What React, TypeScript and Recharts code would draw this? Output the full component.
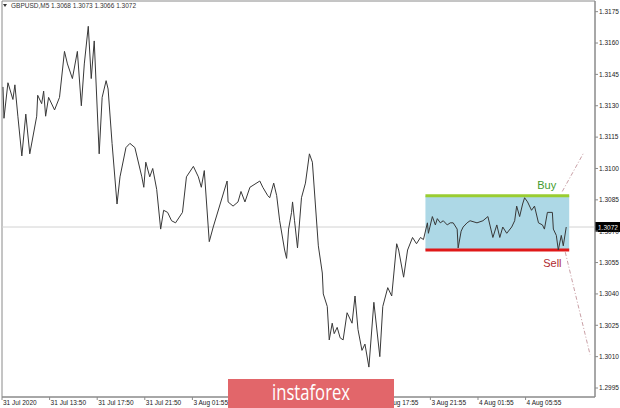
import React from "react";
import { LineChart, Line, XAxis, YAxis, ReferenceArea, ReferenceLine } from "recharts";

// bar number (M5 bars from the left edge) and close price
const bars = [
  1, 2, 6, 11, 13, 16, 20, 24, 28, 35,
  36, 40, 42, 44, 47, 53, 58, 63, 66, 71,
  76, 80, 83, 87, 90, 93, 98, 101, 105, 107,
  111, 116, 119, 125, 129, 134, 141, 143, 145, 149,
  152, 156, 160, 163, 167, 171, 175, 182, 186, 193,
  198, 201, 204, 209, 213, 220, 227, 228, 233, 238,
  241, 245, 250, 260, 263, 268, 270, 274, 277, 280,
  285, 287, 289, 292, 293, 295, 298, 302, 306, 310,
  313, 316, 319, 323, 324, 328, 330, 333, 335, 338,
  341, 344, 348, 353, 356, 359, 363, 366, 370, 375,
  381, 384, 389, 393, 398, 400, 405, 409, 414, 418,
  422, 425, 429, 430, 434, 437, 439, 442, 445, 449,
  452, 455, 459, 460, 463, 465, 469, 472, 479, 485,
  490, 493, 495, 499, 502, 505, 509, 514, 517, 519,
  522, 525, 527, 530, 534, 537, 541, 545, 547, 550,
  555, 556, 559, 561, 564, 566, 569,
];
const prices = [
  1.3139, 1.3124, 1.3141, 1.3133, 1.314, 1.3125, 1.3106, 1.3126, 1.3107, 1.3125,
  1.3135, 1.3131, 1.3137, 1.3125, 1.3134, 1.3128, 1.3134, 1.3156, 1.315, 1.3143,
  1.3156, 1.313, 1.315, 1.3168, 1.3143, 1.3161, 1.3107, 1.3134, 1.3142, 1.3138,
  1.3112, 1.3083, 1.3096, 1.311, 1.3112, 1.311, 1.3096, 1.3091, 1.3103, 1.3096,
  1.31, 1.309, 1.3071, 1.308, 1.3079, 1.3075, 1.3074, 1.3079, 1.3096, 1.3101,
  1.3096, 1.3091, 1.3099, 1.3065, 1.3072, 1.3083, 1.3094, 1.3084, 1.3082, 1.3084,
  1.3089, 1.3084, 1.3091, 1.3094, 1.3091, 1.3087, 1.3086, 1.3093, 1.3087, 1.3075,
  1.3061, 1.3057, 1.3071, 1.3079, 1.3084, 1.3075, 1.3062, 1.3086, 1.3093, 1.3107,
  1.3103, 1.3083, 1.3063, 1.305, 1.304, 1.3034, 1.3018, 1.3026, 1.3021, 1.3024,
  1.3019, 1.3018, 1.3031, 1.3026, 1.3039, 1.3023, 1.3013, 1.3016, 1.3005, 1.3036,
  1.301, 1.3034, 1.3043, 1.3039, 1.3064, 1.3061, 1.3048, 1.3061, 1.3067, 1.3064,
  1.3067, 1.3066, 1.3074, 1.3069, 1.3077, 1.3073, 1.3076, 1.3074, 1.3075, 1.3073,
  1.3074, 1.3074, 1.3071, 1.3062, 1.307, 1.3072, 1.3074, 1.3075, 1.3074, 1.3075,
  1.3077, 1.3071, 1.3067, 1.3073, 1.3067, 1.3072, 1.3069, 1.3072, 1.3075, 1.3082,
  1.3077, 1.3083, 1.3086, 1.3084, 1.308, 1.3082, 1.3074, 1.3073, 1.3071, 1.3079,
  1.3079, 1.3071, 1.3068, 1.3061, 1.3068, 1.3063, 1.3072,
];

const timeTicks = [0, 48, 96, 144, 192, 240, 288, 336, 384, 432, 480, 528];
const timeLabels = [
  "31 Jul 2020", "31 Jul 13:50", "31 Jul 17:50", "31 Jul 21:50",
  "3 Aug 01:55", "3 Aug 05:55", "3 Aug 09:55", "3 Aug 13:55",
  "3 Aug 17:55", "3 Aug 21:55", "4 Aug 01:55", "4 Aug 05:55",
];
const priceTicks = [
  1.2995, 1.301, 1.3025, 1.304, 1.3055, 1.307, 1.3085,
  1.31, 1.3115, 1.313, 1.3145, 1.316, 1.3175,
];

const lastPrice = 1.3072;
const buyLevel = 1.3087;
const sellLevel = 1.3061;
const rangeStart = 427;
const rangeEnd = 572;
const buyPath = [{ bar: 565, price: 1.3089 }, { bar: 586, price: 1.3107 }];
const sellPath = [{ bar: 568, price: 1.306 }, { bar: 593, price: 1.3011 }];

const xMax = 598;
const yMin = 1.29907;
const yMax = 1.31801;
const font = "'Liberation Sans', Arial, sans-serif";

const data = bars.map((b, i) => ({ bar: b, price: prices[i] }));

function TimeTick(props: any) {
  const { x, y, payload } = props;
  const label = timeLabels[timeTicks.indexOf(payload.value)];
  return (
    <text x={x + 1} y={y} dy={4} fontSize={6.5} fill="#222" fontFamily={font}>
      {label}
    </text>
  );
}

function PriceTag(props: any) {
  const vb = props.viewBox;
  const x = vb.x + vb.width;
  return (
    <g>
      <rect x={x} y={vb.y - 5} width={25} height={10} fill="#000" />
      <text x={x + 3} y={vb.y + 2.5} fontSize={6.5} fill="#fff" fontFamily={font}>
        {lastPrice.toFixed(4)}
      </text>
    </g>
  );
}

export default function App() {
  return (
    <div style={{ position: "absolute", left: 0, top: 0, width: 620, height: 408, background: "#fff", overflow: "hidden" }}>
      <LineChart width={620} height={408} data={data} margin={{ top: 1, right: 0, bottom: 0, left: 2 }}>
        <XAxis
          dataKey="bar"
          type="number"
          domain={[0, xMax]}
          allowDataOverflow
          ticks={timeTicks}
          interval={0}
          height={11}
          tickSize={3}
          tickMargin={1}
          stroke="#8a8a8a"
          tick={<TimeTick />}
        />
        <YAxis
          orientation="right"
          type="number"
          domain={[yMin, yMax]}
          allowDataOverflow
          ticks={priceTicks}
          interval={0}
          width={25}
          tickSize={3}
          tickMargin={1}
          stroke="#8a8a8a"
          tickFormatter={(v: number) => v.toFixed(4)}
          tick={{ fontSize: 6.5, fill: "#222", fontFamily: font }}
        />
        <ReferenceArea x1={0} x2={xMax} y1={yMin} y2={yMax} fill="none" stroke="#8a8a8a" />
        <ReferenceLine segment={[{ x: 0, y: lastPrice }, { x: rangeStart, y: lastPrice }]} stroke="#d2d2d2" />
        <ReferenceLine
          segment={[{ x: rangeEnd, y: lastPrice }, { x: xMax, y: lastPrice }]}
          stroke="#d2d2d2"
          label={(p: any) => <PriceTag {...p} />}
        />
        <ReferenceArea x1={rangeStart} x2={rangeEnd} y1={sellLevel} y2={buyLevel} fill="#add8e6" fillOpacity={1} />
        <ReferenceLine
          segment={[{ x: rangeStart, y: buyLevel }, { x: rangeEnd, y: buyLevel }]}
          stroke="#9acd32"
          strokeWidth={3}
          label={(p: any) => (
            <text x={p.viewBox.x + p.viewBox.width - 32} y={p.viewBox.y - 7} fontSize={11} fill="#3f9b2f" fontFamily={font}>
              Buy
            </text>
          )}
        />
        <ReferenceLine
          segment={[{ x: rangeStart, y: sellLevel }, { x: rangeEnd, y: sellLevel }]}
          stroke="#e01818"
          strokeWidth={3}
          label={(p: any) => (
            <text x={p.viewBox.x + p.viewBox.width - 26} y={p.viewBox.y + 17} fontSize={11} fill="#b02a30" fontFamily={font}>
              Sell
            </text>
          )}
        />
        <ReferenceLine
          segment={[{ x: buyPath[0].bar, y: buyPath[0].price }, { x: buyPath[1].bar, y: buyPath[1].price }]}
          stroke="#c9a0a6"
          strokeDasharray="4 2 1 2"
        />
        <ReferenceLine
          segment={[{ x: sellPath[0].bar, y: sellPath[0].price }, { x: sellPath[1].bar, y: sellPath[1].price }]}
          stroke="#c9a0a6"
          strokeDasharray="4 2 1 2"
        />
        <Line dataKey="price" type="linear" stroke="#383838" strokeWidth={1} dot={false} isAnimationActive={false} />
      </LineChart>
      <svg width={620} height={408} style={{ position: "absolute", left: 0, top: 0, pointerEvents: "none" }}>
        <polygon points="3,4 7,4 5,7" fill="#333" />
        <text x={11} y={8} fontSize={6.5} fill="#333" fontFamily={font}>
          GBPUSD,M5  1.3068 1.3073 1.3066 1.3072
        </text>
        <rect x={228} y={379} width={166} height={29} fill="#e2666a" />
        <text x={311} y={399.5} textAnchor="middle" fontSize={21} fill="#fff" fontFamily="'Open Sans', sans-serif" textLength={78} lengthAdjust="spacingAndGlyphs">
          instaforex
        </text>
      </svg>
    </div>
  );
}
